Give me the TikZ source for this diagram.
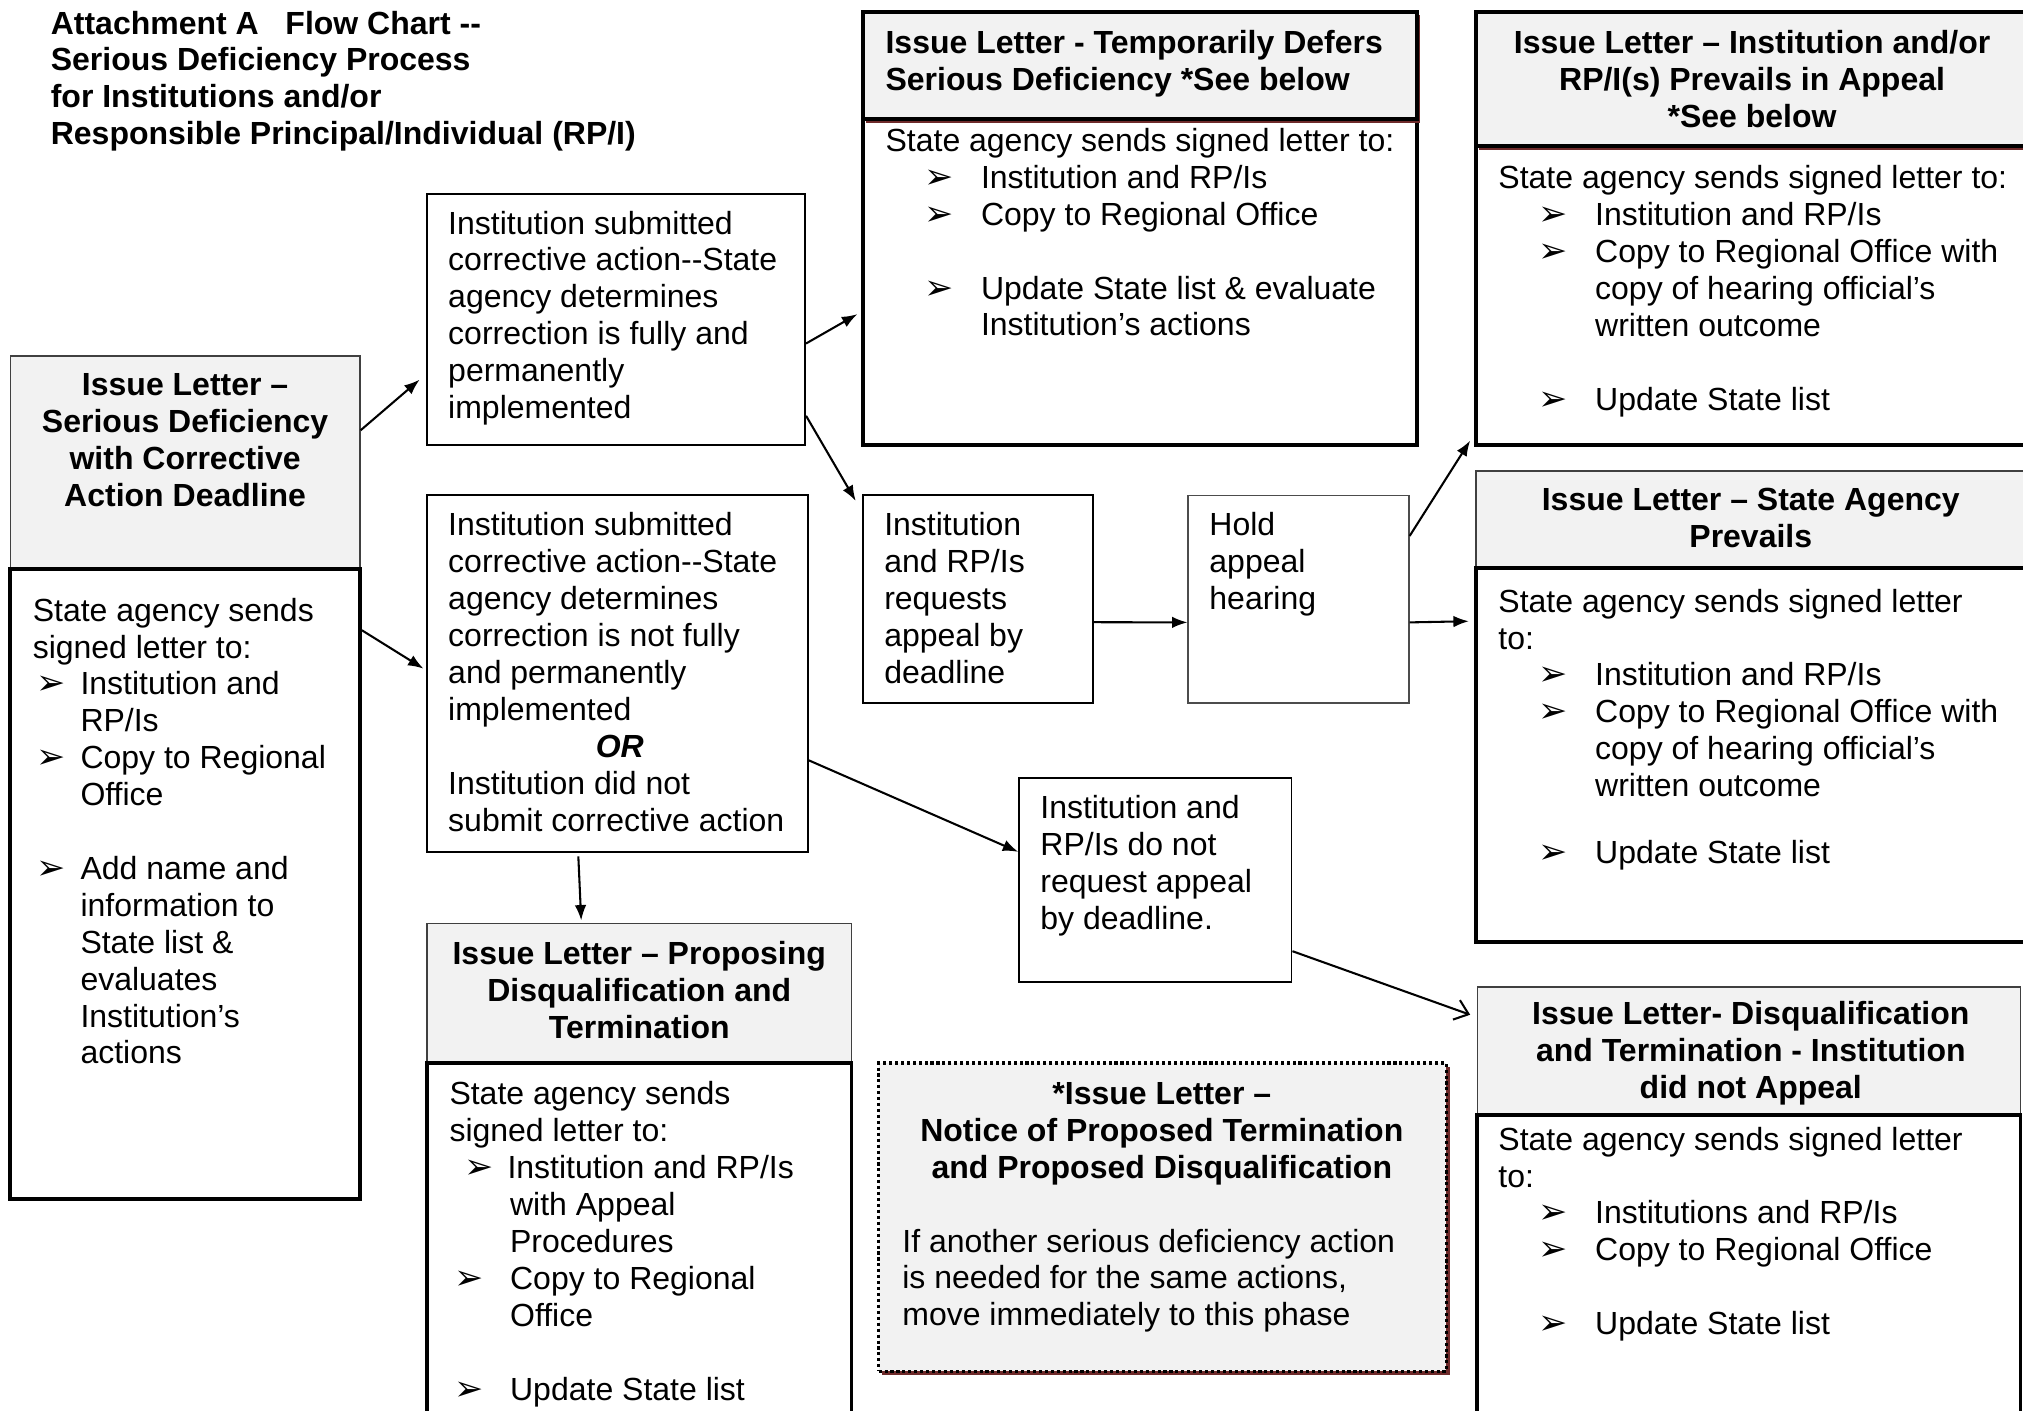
\documentclass[tikz,border=0pt]{standalone}
\usepackage{fontspec}
\setmainfont{Liberation Sans}
\newfontfamily\symfont{DejaVu Sans}
\usetikzlibrary{arrows.meta,calc,fit}
\definecolor{hdrgray}{HTML}{F2F2F2}
\definecolor{shadowred}{HTML}{6E2A2A}
\newcommand\bodyfont{\fontsize{12.4}{14.3}\selectfont}
\newcommand\bul{{\symfont\fontsize{13.5}{14.3}\selectfont ➢}}
\newcommand\bi[3]{\makebox[#1][l]{}\makebox[#2][l]{\bul}#3}
\newcommand\ci[2]{\makebox[#1][l]{}#2}
\begin{document}
\begin{tikzpicture}[x=0.5pt,y=-0.5pt,
  txt/.style={inner sep=0pt, anchor=north west, align=left, font=\bodyfont},
  ctr/.style={inner sep=0pt, anchor=north, align=center, font=\bodyfont\bfseries},
  thinbox/.style={draw=black, line width=0.75pt, inner sep=0pt},
  graybox/.style={draw=black!70, line width=0.6pt, inner sep=0pt},
  hdr/.style={draw=black!75, line width=0.5pt, fill=hdrgray, inner sep=0pt},
  bodybox/.style={draw=black, line width=1.5pt, fill=white, inner sep=0pt},
  thickhdr/.style={draw=black, line width=1.5pt, fill=hdrgray, inner sep=0pt},
  redshadow/.style={fill=shadowred, draw=none, inner sep=0pt},
  notebox/.style={draw=black, line width=1.3pt, dash pattern=on 1.2pt off 1.1pt, fill=hdrgray, inner sep=0pt},
  arr/.style={line width=0.8pt, -{Latex[length=6pt,width=4.5pt]}},
  openarr/.style={line width=0.8pt, -{Straight Barb[length=5pt,width=8pt]}},
]
\fill[white] (0,0) rectangle (1568,1093);
\useasboundingbox (0,0) rectangle (1568,1093);

% Title
\node[txt, font=\bodyfont\bfseries] (title) at (39,6) {\strut Attachment A\ \ \ Flow Chart -{}-\\Serious Deficiency Process\\for Institutions and/or\\Responsible Principal/Individual (RP/I)};

% Box A
\node[hdr, fit={(8,276) (279,441)}] (AH) {};
\node[bodybox, fit={(8,441) (279,929)}] (AB) {};
\node[ctr] (AHt) at (143.5,286) {\strut Issue Letter –\\Serious Deficiency\\with Corrective\\Action Deadline};
\node[txt] (ABt) at (25,461) {\strut State agency sends\\signed letter to:\\\bi{1.5pt}{17pt}{Institution and}\\\ci{18.5pt}{RP/Is}\\\bi{1.5pt}{17pt}{Copy to Regional}\\\ci{18.5pt}{Office}\\[14.3pt]\bi{1.5pt}{17pt}{Add name and}\\\ci{18.5pt}{information to}\\\ci{18.5pt}{State list \&}\\\ci{18.5pt}{evaluates}\\\ci{18.5pt}{Institution’s}\\\ci{18.5pt}{actions}};

% Box B
\node[thinbox, fit={(331,150) (624,345)}] (B) {};
\node[txt] (Bt) at (347,161) {\strut Institution submitted\\corrective action-{}-State\\agency determines\\correction is fully and\\permanently\\implemented};

% Box C
\node[thinbox, fit={(331,384) (626,660)}] (C) {};
\node[txt] (Ct) at (347,395) {\strut Institution submitted\\corrective action-{}-State\\agency determines\\correction is not fully\\and permanently\\implemented\\\makebox[133pt]{\bfseries\itshape OR}\\Institution did not\\submit corrective action};

% Box D
\node[bodybox, fit={(669,92) (1098,345)}] (DB) {};
\node[redshadow, fit={(671.5,11.5) (1100.5,95)}] (DS) {};
\node[thickhdr, fit={(669,9) (1098,92)}] (DH) {};
\node[txt, font=\bodyfont\bfseries] (DHt) at (686,21) {\strut Issue Letter - Temporarily Defers\\Serious Deficiency *See below};
\node[txt] (DBt) at (686,97) {\strut State agency sends signed letter to:\\\bi{15pt}{22pt}{Institution and RP/Is}\\\bi{15pt}{22pt}{Copy to Regional Office}\\[14.3pt]\bi{15pt}{22pt}{Update State list \& evaluate}\\\ci{37pt}{Institution’s actions}};

% Box E
\node[bodybox, fit={(1144,113) (1580,345)}] (EB) {};
\node[redshadow, fit={(1146.5,11.5) (1582,116)}] (ES) {};
\node[thickhdr, fit={(1144,9) (1580,113)}] (EH) {};
\node[ctr] (EHt) at (1358,21) {\strut Issue Letter – Institution and/or\\RP/I(s) Prevails in Appeal\\*See below};
\node[txt] (EBt) at (1161,126) {\strut State agency sends signed letter to:\\\bi{15.5pt}{22pt}{Institution and RP/Is}\\\bi{15.5pt}{22pt}{Copy to Regional Office with}\\\ci{37.5pt}{copy of hearing official’s}\\\ci{37.5pt}{written outcome}\\[14.3pt]\bi{15.5pt}{22pt}{Update State list}};

% Box F
\node[thinbox, fit={(669,384) (847,545)}] (F) {};
\node[txt] (Ft) at (685,395) {\strut Institution\\and RP/Is\\requests\\appeal by\\deadline};

% Box G
\node[graybox, fit={(921,384) (1092,545)}] (G) {};
\node[txt] (Gt) at (937,395) {\strut Hold\\appeal\\hearing};

% Box H
\node[hdr, fit={(1144,365) (1580,440)}] (HH) {};
\node[bodybox, fit={(1144,440) (1580,730)}] (HB) {};
\node[ctr] (HHt) at (1357,375) {\strut Issue Letter – State Agency\\Prevails};
\node[txt] (HBt) at (1161,454) {\strut State agency sends signed letter\\to:\\\bi{15.5pt}{22pt}{Institution and RP/Is}\\\bi{15.5pt}{22pt}{Copy to Regional Office with}\\\ci{37.5pt}{copy of hearing official’s}\\\ci{37.5pt}{written outcome}\\[11.7pt]\bi{15.5pt}{22pt}{Update State list}};

% Box I
\node[hdr, fit={(331,716) (660,824)}] (IH) {};
\node[bodybox, fit={(331,824) (660,1110)}] (IB) {};
\node[ctr] (IHt) at (495.5,727) {\strut Issue Letter – Proposing\\Disqualification and\\Termination};
\node[txt] (IBt) at (348,836) {\strut State agency sends\\signed letter to:\\\bi{6pt}{16.5pt}{Institution and RP/Is}\\\ci{23.5pt}{with Appeal}\\\ci{23.5pt}{Procedures}\\\bi{2pt}{21.5pt}{Copy to Regional}\\\ci{23.5pt}{Office}\\[14.3pt]\bi{2pt}{21.5pt}{Update State list}};

% Box J (note)
\node[redshadow, fit={(684,827) (1124,1066)}] (JS) {};
\node[notebox, fit={(681,824) (1121,1063)}] (J) {};
\node[ctr] (JHt) at (900.5,836) {\strut *Issue Letter –\\Notice of Proposed Termination\\and Proposed Disqualification};
\node[txt] (JBt) at (699,950) {\strut If another serious deficiency action\\is needed for the same actions,\\move immediately to this phase};

% Box K
\node[thinbox, fit={(790,603) (1001,761)}] (K) {};
\node[txt] (Kt) at (806,614) {\strut Institution and\\RP/Is do not\\request appeal\\by deadline.};

% Box L
\node[hdr, fit={(1145,765) (1566,864)}] (LH) {};
\node[bodybox, fit={(1145,864) (1566,1110)}] (LB) {};
\node[ctr] (LHt) at (1357,774) {\strut Issue Letter- Disqualification\\and Termination - Institution\\did not Appeal};
\node[txt] (LBt) at (1161,871) {\strut State agency sends signed letter\\to:\\\bi{15.5pt}{22pt}{Institutions and RP/Is}\\\bi{15.5pt}{22pt}{Copy to Regional Office}\\[14.3pt]\bi{15.5pt}{22pt}{Update State list}};

% Arrows
\draw[arr] ($(AH.north east)+(0,58)$) -- ($(B.north west)+(-5,145)$);
\draw[arr] ($(AB.north east)+(0,49)$) -- ($(C.north west)+(-2,135)$);
\draw[arr] ($(B.north east)+(0,117)$) -- ($(DB.north west)+(-3,153)$);
\draw[arr] ($(B.north east)+(0,173)$) -- ($(F.north west)+(-5,5)$);
\draw[arr] ($(C.south west)+(118,3)$) -- ($(IH.north west)+(120,-2)$);
\draw[arr] ($(C.north east)+(0,206)$) -- ($(K.north west)+(0,58)$);
\draw[arr] ($(F.north east)+(0,99)$) -- ($(G.north west)+(0,99)$);
\draw[arr] ($(G.north east)+(0,32)$) -- ($(EB.south west)+(-3,-5)$);
\draw[arr] ($(G.north east)+(0,99)$) -- ($(HB.north west)+(-4,43)$);
\draw[openarr] ($(K.north east)+(0,135)$) -- ($(LH.north west)+(-5,22)$);
\end{tikzpicture}
\end{document}
